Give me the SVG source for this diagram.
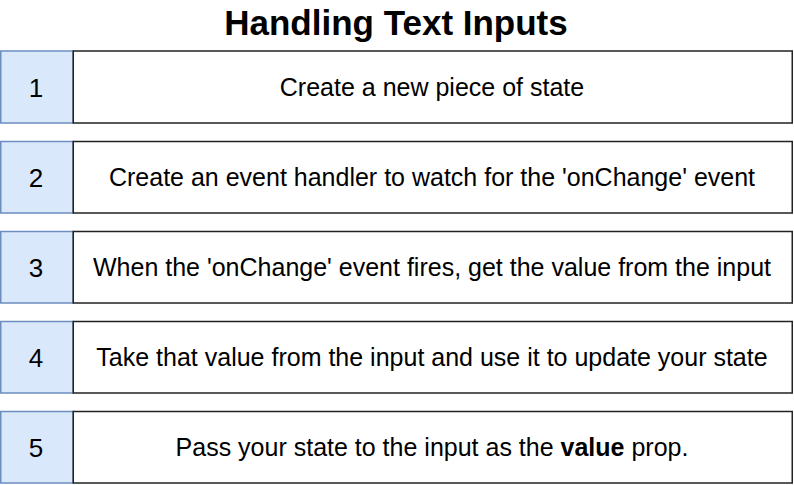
<svg xmlns="http://www.w3.org/2000/svg" width="794" height="485" viewBox="0 0 794 485">
  <style>
    .num { fill: #dae8fc; stroke: #6c8ebf; stroke-width: 1.5; }
    .step { fill: #ffffff; stroke: #222222; stroke-width: 1.5; }
    text { font-family: "Liberation Sans", Arial, sans-serif; fill: #000000; text-anchor: middle; }
    .title { font-size: 35px; font-weight: bold; }
    .label { font-size: 25px; }
    .idx { font-size: 26px; }
  </style>
  <rect width="794" height="485" fill="#ffffff"/>
  <text class="title" x="396" y="35">Handling Text Inputs</text>

  <g id="step1">
    <rect class="num" x="0.75" y="51" width="72.5" height="72"/>
    <rect class="step" x="73.25" y="51" width="719" height="72"/>
    <text class="idx" x="36" y="97">1</text>
    <text class="label" x="432" y="96">Create a new piece of state</text>
  </g>
  <g id="step2">
    <rect class="num" x="0.75" y="141.5" width="72.5" height="71.5"/>
    <rect class="step" x="73.25" y="141.5" width="719" height="71.5"/>
    <text class="idx" x="36" y="187">2</text>
    <text class="label" x="432" y="186">Create an event handler to watch for the 'onChange' event</text>
  </g>
  <g id="step3">
    <rect class="num" x="0.75" y="231.5" width="72.5" height="71.5"/>
    <rect class="step" x="73.25" y="231.5" width="719" height="71.5"/>
    <text class="idx" x="36" y="277">3</text>
    <text class="label" x="432" y="276">When the 'onChange' event fires, get the value from the input</text>
  </g>
  <g id="step4">
    <rect class="num" x="0.75" y="321.5" width="72.5" height="71.5"/>
    <rect class="step" x="73.25" y="321.5" width="719" height="71.5"/>
    <text class="idx" x="36" y="367">4</text>
    <text class="label" x="432" y="366">Take that value from the input and use it to update your state</text>
  </g>
  <g id="step5">
    <rect class="num" x="0.75" y="411.5" width="72.5" height="71.5"/>
    <rect class="step" x="73.25" y="411.5" width="719" height="71.5"/>
    <text class="idx" x="36" y="457">5</text>
    <text class="label" x="432" y="456">Pass your state to the input as the <tspan font-weight="bold">value</tspan> prop.</text>
  </g>
</svg>
